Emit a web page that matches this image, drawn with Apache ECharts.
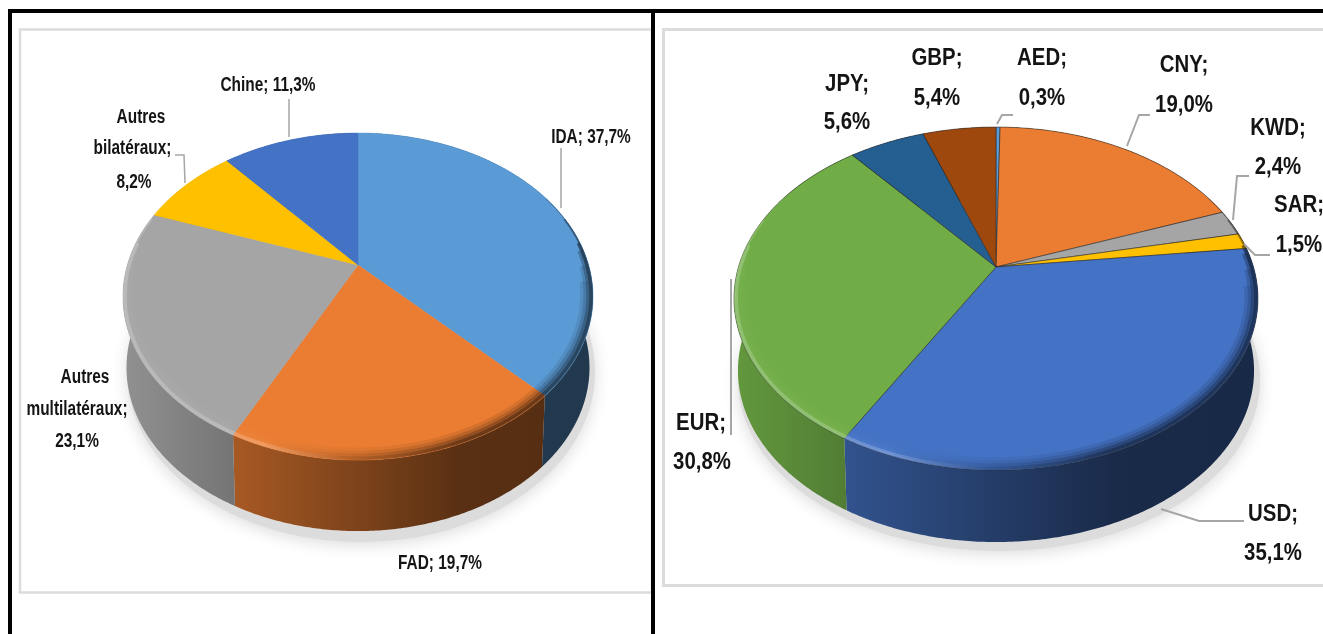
<!DOCTYPE html>
<html><head><meta charset="utf-8">
<script src="https://cdn.jsdelivr.net/npm/echarts@6/dist/echarts.min.js"></script>
<style>html,body{margin:0;padding:0;background:#fff}#c{width:1323px;height:634px}</style>
</head><body><div id="c"></div>
<script>
// ---- data ----
const lenderNames = ['IDA', 'FAD', 'Autres multilatéraux', 'Autres bilatéraux', 'Chine'];
const lenderValues = [37.7, 19.7, 23.1, 8.2, 11.3];
const currencyNames = ['AED', 'CNY', 'KWD', 'SAR', 'USD', 'EUR', 'JPY', 'GBP'];
const currencyValues = [0.3, 19.0, 2.4, 1.5, 35.1, 30.8, 5.6, 5.4];
// ---- styles ----
const lenderColors = ['#5B9BD5', '#EB7D32', '#A5A5A5', '#FFC000', '#4472C4'];
const currencyColors = ['#5B9BD5', '#EB7D32', '#A5A5A5', '#FFC000', '#4472C4', '#70AD47', '#255E91', '#9E480E'];
const FONT_FAMILY = '"Liberation Sans",sans-serif';
// ---- layout ----
const leftPie = {cx:358, ay:265, A:230.6, B:157.4, k:0.193, dy:71, xmin:123, xmax:593, edge:null, font:19.5, sx:0.79};
const rightPie = {cx:996, ay:267, A:257.5, B:165.7, k:0.184, dy:72, xmin:734, xmax:1259, edge:'rgba(40,40,40,0.55)', font:24, sx:0.85};
const lenderLabelPos = [[[591,138]], [[440,564]], [[85,378],[77,410],[77,442]], [[141,118],[132.5,149],[134,183]], [[268,86]]];
const currencyLabelPos = [[[1042,58],[1042,98]], [[1184,65],[1184,105]], [[1278,128],[1278,167]], [[1299,205],[1299,245]],
  [[1273,514],[1273,553]], [[701,423],[702,462]], [[847,84],[847,122]], [[937,58],[937,98]]];
const lenderLeaders = [[[561,148],[561,208]], [[175,155],[184,155],[185,183]], [[289,99],[289,137]]];
const currencyLeaders = [[[1013,115],[1002,115],[997,124]], [[1150,115],[1139,115],[1127,146]], [[1249,176],[1237,176],[1233,220]],
  [[1270,255],[1255,255],[1244,244]], [[1244,521],[1199,521],[1161,509]], [[731,435],[731,279]]];

function hex2rgb(h){return [1,3,5].map(i=>parseInt(h.substr(i,2),16));}
function shade(h,f){
  const c=hex2rgb(h);
  const m=f<=1? c.map(v=>v*f) : c.map(v=>v+(255-v)*(f-1));
  return 'rgb('+m.map(v=>Math.round(v)).join(',')+')';
}
function project(p,ang,r,dy,xs){
  const u=Math.sin(ang), v=-Math.cos(ang), w=1-p.k*v*r;
  return [p.cx+p.A*u*r/w*(xs||1), p.ay+(dy||0)+p.B*v*r/w];
}
function arc(p,a0,a1,r,dy,xs){
  const n=Math.max(2,Math.ceil((a1-a0)/0.01)), pts=[];
  for(let i=0;i<=n;i++) pts.push(project(p,a0+(a1-a0)*i/n,r,dy,xs));
  return pts;
}
function spans(values){
  const tot=values.reduce((a,b)=>a+b,0); let acc=0;
  return values.map(v=>{const a0=acc/tot*2*Math.PI; acc+=v; return [a0,acc/tot*2*Math.PI];});
}
function grad(p,stops){return {type:'linear',x:p.xmin,y:0,x2:p.xmax,y2:0,global:true,colorStops:stops};}
function wallGrad(p,c){
  return grad(p,[{offset:0,color:shade(c,0.88)},{offset:0.25,color:shade(c,0.7)},{offset:0.72,color:shade(c,0.38)},{offset:1,color:shade(c,0.36)}]);
}

function wallSeries(p,values,colors){
  const sp=spans(values);
  return {type:'custom',coordinateSystem:'none',silent:true,z:2,animation:false,data:values,
    renderItem(params){
      const i=params.dataIndex, [a0,a1]=sp[i];
      const top=arc(p,a0,a1,1,0), bot=arc(p,a0,a1,1,p.dy,0.985).reverse();
      return {type:'polygon',shape:{points:top.concat(bot)},style:{fill:wallGrad(p,colors[i])}};
    }};
}
function topSeries(p,values,colors){
  const sp=spans(values);
  return {type:'custom',coordinateSystem:'none',silent:true,z:3,animation:false,data:values,
    renderItem(params){
      const i=params.dataIndex,[a0,a1]=sp[i];
      const pts=[project(p,0,0)].concat(arc(p,a0,a1,1,0));
      return {type:'polygon',shape:{points:pts},
        style:{fill:colors[i],stroke:p.edge||colors[i],lineWidth:p.edge?1:0.5}};
    }};
}
function rimSeries(p,values,colors){
  const sp=spans(values);
  const start=Math.PI/2-Math.asin(p.k), end=2*Math.PI-start;
  return {type:'custom',coordinateSystem:'none',silent:true,z:4,animation:false,data:values,
    renderItem(params){
      const i=params.dataIndex, c=colors[i];
      const bright=[{offset:0,color:shade(c,1.28)},{offset:0.3,color:shade(c,1.28)},{offset:0.48,color:shade(c,0.75)},{offset:0.72,color:shade(c,0.38)},{offset:1,color:shade(c,0.36)}];
      const soft=[{offset:0,color:shade(c,1.05)},{offset:0.3,color:shade(c,1.05)},{offset:0.48,color:shade(c,0.75)},{offset:0.72,color:shade(c,0.38)},{offset:1,color:shade(c,0.36)}];
      const mk=(stops,from,to,r,w,o)=>{
        const a0=Math.max(sp[i][0],from), a1=Math.min(sp[i][1],to);
        if(a1<=a0) return null;
        return {type:'polyline',shape:{points:arc(p,a0,a1,r,0)},
          style:{fill:null,stroke:grad(p,stops),lineWidth:w,opacity:o,lineCap:'butt'}};
      };
      const kids=[mk(soft,start+0.3,end-0.3,0.966,9,0.15),mk(soft,start+0.2,end-0.2,0.975,7,0.22),mk(soft,start+0.1,end-0.1,0.983,5,0.4),
                  mk(bright,start+0.05,end-0.05,0.991,3,0.75),mk(bright,start-0.12,end+0.12,0.996,1.8,0.55),mk(bright,start-0.28,end+0.28,0.998,1,0.4)].filter(Boolean);
      return {type:'group',children:kids};
    }};
}
function labelSeries(p,names,values,pos,leaders){
  return {type:'custom',coordinateSystem:'none',silent:true,z:5,animation:false,data:[0],
    renderItem(){
      const kids=[];
      leaders.forEach(l=>kids.push({type:'polyline',shape:{points:l},style:{fill:null,stroke:'#a6a6a6',lineWidth:p.font>20?2:1.5}}));
      names.forEach((n,i)=>{
        const val=values[i].toFixed(1).replace('.',',')+'%';
        const tokens=(n+';').split(' ').concat(val);
        const lines=pos[i].length===1?[tokens.join(' ')]:tokens;
        lines.forEach((t,j)=>{
          kids.push({type:'text',x:pos[i][j][0],y:pos[i][j][1],scaleX:p.sx,
            style:{text:t,x:0,y:0,align:'center',verticalAlign:'middle',fill:'#141414',
              font:'bold '+p.font+'px '+FONT_FAMILY}});
        });
      });
      return {type:'group',children:kids};
    }};
}
const frame=[
  {type:'rect',shape:{x:20,y:29.5,width:632,height:563},style:{fill:'#fff',stroke:'#dcdcdc',lineWidth:2.5}},
  {type:'ellipse',shape:{cx:361,cy:372,rx:234,ry:170},style:{fill:'#dcdcdc',shadowBlur:16,shadowColor:'#dcdcdc',shadowOffsetY:3}},
  {type:'rect',shape:{x:663.5,y:29.5,width:700,height:556},style:{fill:'#fff',stroke:'#dcdcdc',lineWidth:3}},
  {type:'ellipse',shape:{cx:999,cy:380,rx:261,ry:171},style:{fill:'#dcdcdc',shadowBlur:16,shadowColor:'#dcdcdc',shadowOffsetY:3}},
  {type:'rect',shape:{x:8,y:9,width:1315,height:4},style:{fill:'#000'}},
  {type:'rect',shape:{x:8,y:9,width:4,height:625},style:{fill:'#000'}},
  {type:'rect',shape:{x:651,y:9,width:4,height:625},style:{fill:'#000'}}
];
const chart=echarts.init(document.getElementById('c'),null,{renderer:'canvas'});
chart.setOption({animation:false,backgroundColor:'#fff',
  graphic:{elements:frame.map(e=>Object.assign({silent:true,z:-1},e))},
  series:[
    wallSeries(leftPie,lenderValues,lenderColors),
    topSeries(leftPie,lenderValues,lenderColors),
    rimSeries(leftPie,lenderValues,lenderColors),
    labelSeries(leftPie,lenderNames,lenderValues,lenderLabelPos,lenderLeaders),
    wallSeries(rightPie,currencyValues,currencyColors),
    topSeries(rightPie,currencyValues,currencyColors),
    rimSeries(rightPie,currencyValues,currencyColors),
    labelSeries(rightPie,currencyNames,currencyValues,currencyLabelPos,currencyLeaders)
  ]});
</script></body></html>
